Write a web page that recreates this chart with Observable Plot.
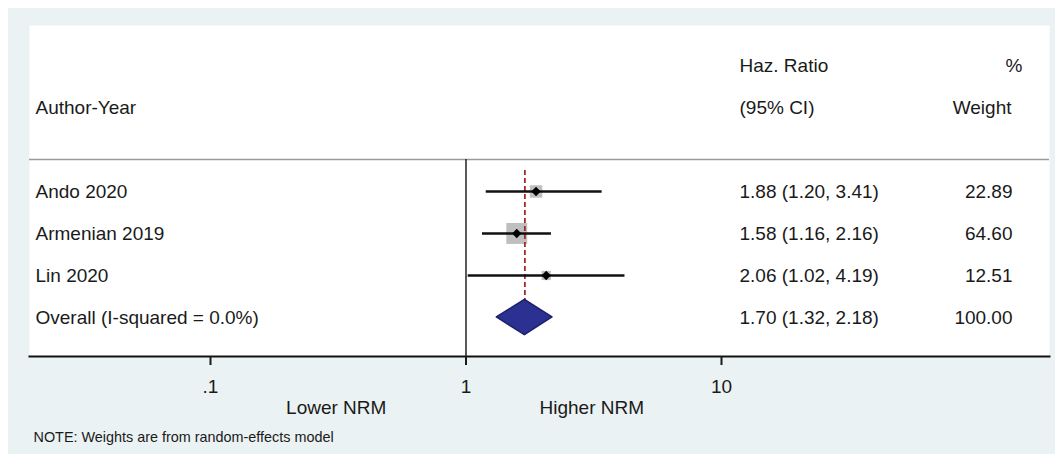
<!DOCTYPE html>
<html><head><meta charset="utf-8">
<script src="https://cdn.jsdelivr.net/npm/d3@7"></script>
<script src="https://cdn.jsdelivr.net/npm/@observablehq/plot@0.6"></script>
<style>
html,body{margin:0;padding:0;background:#fff;overflow:hidden}
#chart{padding:8px 0 0 8px}
</style></head><body><div id="chart"></div>
<script>
// ---- data ----
const studies = ["Ando 2020", "Armenian 2019", "Lin 2020"];
const hr      = [1.88, 1.58, 2.06];
const ciLow   = [1.20, 1.16, 1.02];
const ciHigh  = [3.41, 2.16, 4.19];
const weights = [22.89, 64.60, 12.51];

const overallLabel  = "Overall (I-squared = 0.0%)";
const overallHR     = 1.70;
const overallLow    = 1.32;
const overallHigh   = 2.18;
const overallWeight = 100.00;

const xTicks      = [0.1, 1, 10];
const xTickLabels = [".1", "1", "10"];
const sideLabels  = ["Lower NRM", "Higher NRM"];
const noteText    = "NOTE: Weights are from random-effects model";

// ---- derived tables ----
const f2 = v => v.toFixed(2);
const table = studies.map((s, i) => ({
  study: s, hr: hr[i], lo: ciLow[i], hi: ciHigh[i], weight: weights[i], row: i + 2,
  hrText: `${f2(hr[i])} (${f2(ciLow[i])}, ${f2(ciHigh[i])})`, wText: f2(weights[i])
}));
const overallRow = studies.length + 2;
const overallTbl = [{
  study: overallLabel, row: overallRow,
  hrText: `${f2(overallHR)} (${f2(overallLow)}, ${f2(overallHigh)})`, wText: f2(overallWeight)
}];
const halfH = 0.42;
const diamond = [
  {y: overallRow - halfH, x1: overallHR, x2: overallHR},
  {y: overallRow, x1: overallLow, x2: overallHigh},
  {y: overallRow + halfH, x1: overallHR, x2: overallHR}
];
const sideTbl = [
  {x: Math.sqrt(xTicks[0] * xTicks[1]), text: sideLabels[0]},
  {x: Math.sqrt(xTicks[1] * xTicks[2]), text: sideLabels[1]}
];
const sepRow = 1.238, topRow = -1.952, bottomRow = 5.929;
const tickLabel = new Map(xTicks.map((t, i) => [t, xTickLabels[i]]));
const ink = "#1a1a1a";

const plot = Plot.plot({
  width: 1047, height: 446,
  marginLeft: 21, marginRight: 6, marginTop: 17, marginBottom: 98,
  style: {background: "#eaf2f3", fontFamily: "'Liberation Sans', Arial, sans-serif", fontSize: "19px", color: ink},
  x: {type: "log", domain: [0.1, 10], range: [202, 713], label: null},
  y: {domain: [topRow, bottomRow], reverse: true, axis: null},
  r: {type: "sqrt", domain: [0, d3.max(weights)], range: [0, 11.8]},
  marks: [
    Plot.frame({fill: "white", stroke: "none"}),
    Plot.ruleY([sepRow], {stroke: "#9a9a9a", strokeWidth: 1.5}),
    Plot.ruleX([1], {y1: sepRow, y2: bottomRow, stroke: "#222", strokeWidth: 1.5}),
    Plot.frame({anchor: "bottom", stroke: "#111", strokeWidth: 2}),
    Plot.axisX({ticks: xTicks, tickFormat: d => tickLabel.get(d), tickSize: 9, tickPadding: 14,
      strokeWidth: 2, fontSize: 19, fill: ink, label: null}),
    Plot.dot(table, {x: "hr", y: "row", r: "weight", symbol: "square", fill: "#bfbfbf", stroke: "none"}),
    Plot.ruleX([overallHR], {y1: 1.5, y2: overallRow + halfH, stroke: "#a32a2a", strokeWidth: 1.8, strokeDasharray: "5,3"}),
    Plot.ruleY(table, {y: "row", x1: "lo", x2: "hi", stroke: "#111", strokeWidth: 2.5}),
    Plot.dot(table, {x: "hr", y: "row", r: 4.2, symbol: "diamond2", fill: "#000", stroke: "none"}),
    Plot.areaX(diamond, {y: "y", x1: "x1", x2: "x2", fill: "#2b3190", stroke: "#1c1f6b", strokeWidth: 1.5}),
    // headers
    Plot.text(["Author-Year"], {y: [0], frameAnchor: "left", textAnchor: "start", dx: 6, fontSize: 19, fill: ink}),
    Plot.text(["Haz. Ratio", "(95% CI)"], {y: [-1, 0], frameAnchor: "right", textAnchor: "start", dx: -310, fontSize: 19, fill: ink}),
    Plot.text(["%"], {y: [-1], frameAnchor: "right", textAnchor: "end", dx: -27, fontSize: 19, fill: ink}),
    Plot.text(["Weight"], {y: [0], frameAnchor: "right", textAnchor: "end", dx: -38, fontSize: 19, fill: ink}),
    // rows
    Plot.text([...table, ...overallTbl], {y: "row", text: "study", frameAnchor: "left", textAnchor: "start", dx: 6, fontSize: 19, fill: ink}),
    Plot.text([...table, ...overallTbl], {y: "row", text: "hrText", frameAnchor: "right", textAnchor: "start", dx: -310, fontSize: 19, fill: ink}),
    Plot.text([...table, ...overallTbl], {y: "row", text: "wText", frameAnchor: "right", textAnchor: "end", dx: -37, fontSize: 19, fill: ink}),
    // side labels & note
    Plot.text(sideTbl, {x: "x", text: "text", frameAnchor: "bottom", dy: 57, dx: -2, fontSize: 19, fill: ink}),
    Plot.text([noteText], {frameAnchor: "bottom-left", textAnchor: "start", dx: 4, dy: 85, fontSize: 14.4, fill: ink})
  ]
});
document.getElementById("chart").appendChild(plot);
</script></body></html>
